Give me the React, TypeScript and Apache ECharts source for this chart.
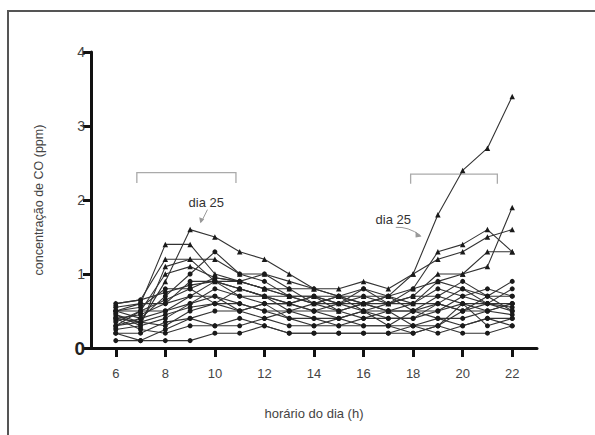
import React, { useEffect, useRef } from "react";
import * as echarts from "echarts";

const hours = [6, 7, 8, 9, 10, 11, 12, 13, 14, 15, 16, 17, 18, 19, 20, 21, 22];
const xTicks = [6, 8, 10, 12, 14, 16, 18, 20, 22];

const s01 = [0.4, 0.35, 0.9, 1.6, 1.5, 1.3, 1.2, 1.0, 0.8, 0.7, 0.6, 0.7, 1.0, 1.8, 2.4, 2.7, 3.4];
const s02 = [0.5, 0.6, 1.4, 1.4, 1.0, 0.9, 0.8, 0.7, 0.7, 0.6, 0.7, 0.6, 0.8, 1.3, 1.4, 1.6, 1.3];
const s03 = [0.6, 0.65, 1.2, 1.2, 1.2, 1.0, 1.0, 0.9, 0.8, 0.8, 0.9, 0.8, 1.0, 1.2, 1.3, 1.5, 1.6];
const s04 = [0.45, 0.3, 1.1, 1.2, 0.9, 0.8, 0.7, 0.6, 0.7, 0.5, 0.6, 0.6, 0.7, 1.0, 1.0, 1.1, 1.9];
const s05 = [0.3, 0.5, 1.0, 1.1, 0.95, 0.9, 0.8, 0.8, 0.6, 0.7, 0.5, 0.5, 0.6, 0.9, 1.0, 1.3, 1.3];
const s06 = [0.5, 0.4, 0.7, 1.0, 1.3, 1.0, 0.9, 0.7, 0.6, 0.6, 0.6, 0.5, 0.5, 0.7, 0.9, 0.7, 0.9];
const s07 = [0.4, 0.45, 0.6, 0.9, 0.9, 0.8, 0.7, 0.6, 0.5, 0.6, 0.5, 0.6, 0.6, 0.6, 0.8, 0.6, 0.8];
const s08 = [0.35, 0.5, 0.65, 0.8, 0.95, 0.9, 0.8, 0.7, 0.7, 0.7, 0.7, 0.7, 0.6, 0.8, 0.7, 0.8, 0.7];
const s09 = [0.55, 0.6, 0.6, 0.7, 0.9, 0.7, 0.6, 0.6, 0.5, 0.5, 0.6, 0.5, 0.5, 0.5, 0.6, 0.5, 0.6];
const s10 = [0.5, 0.5, 0.5, 0.6, 0.8, 0.7, 0.7, 0.5, 0.6, 0.5, 0.4, 0.4, 0.4, 0.5, 0.7, 0.6, 0.55];
const s11 = [0.3, 0.4, 0.5, 0.7, 0.7, 0.6, 0.5, 0.5, 0.4, 0.4, 0.5, 0.4, 0.4, 0.6, 0.5, 0.7, 0.5];
const s12 = [0.25, 0.3, 0.4, 0.6, 0.7, 0.5, 0.6, 0.4, 0.4, 0.3, 0.4, 0.5, 0.3, 0.4, 0.4, 0.5, 0.45];
const s13 = [0.45, 0.35, 0.3, 0.5, 0.6, 0.6, 0.5, 0.4, 0.3, 0.4, 0.3, 0.3, 0.5, 0.4, 0.3, 0.4, 0.4];
const s14 = [0.2, 0.2, 0.35, 0.4, 0.5, 0.5, 0.4, 0.3, 0.3, 0.3, 0.3, 0.3, 0.3, 0.3, 0.6, 0.3, 0.4];
const s15 = [0.4, 0.25, 0.2, 0.3, 0.3, 0.4, 0.3, 0.2, 0.2, 0.2, 0.2, 0.2, 0.2, 0.3, 0.2, 0.2, 0.3];
const s16 = [0.1, 0.1, 0.1, 0.1, 0.2, 0.2, 0.3, 0.2, 0.2, 0.2, 0.2, 0.2, 0.3, 0.2, 0.3, 0.4, 0.3];
const s17 = [0.2, 0.1, 0.25, 0.4, 0.3, 0.3, 0.4, 0.5, 0.5, 0.4, 0.5, 0.3, 0.2, 0.3, 0.5, 0.5, 0.6];
const s18 = [0.5, 0.55, 0.8, 0.8, 0.6, 0.5, 0.6, 0.6, 0.7, 0.6, 0.8, 0.6, 0.7, 0.7, 0.6, 0.6, 0.5];
const s19 = [0.3, 0.35, 0.45, 0.55, 0.6, 0.8, 0.7, 0.7, 0.6, 0.7, 0.6, 0.7, 0.5, 0.6, 0.5, 0.6, 0.6];
const s20 = [0.6, 0.65, 0.75, 0.85, 0.9, 0.9, 1.0, 0.8, 0.8, 0.7, 0.8, 0.7, 0.8, 0.9, 0.8, 0.7, 0.7];

const allSeries = [s01, s02, s03, s04, s05, s06, s07, s08, s09, s10, s11, s12, s13, s14, s15, s16, s17, s18, s19, s20];

const annotationText = "dia 25";
const xName = "horário do dia (h)";
const yName = "concentração de CO (ppm)";

export default function App() {
  const ref = useRef<HTMLDivElement>(null);
  useEffect(() => {
    document.body.style.margin = "0";
    const chart = echarts.init(ref.current!, null, { renderer: "svg" });
    const font = "'Liberation Sans', Arial, sans-serif";
    chart.setOption({
      animation: false,
      backgroundColor: "#fff",
      textStyle: { fontFamily: font },
      grid: { left: 91, right: 58, top: 52, bottom: 87, containLabel: false },
      xAxis: {
        type: "value",
        min: 5,
        max: 23,
        name: xName,
        nameLocation: "middle",
        nameGap: 59,
        nameTextStyle: { fontSize: 13, color: "#444", fontFamily: font },
        axisLine: { lineStyle: { color: "#111", width: 3 } },
        axisTick: { show: true, length: 9, lineStyle: { color: "#111", width: 3 }, customValues: xTicks },
        axisLabel: { customValues: xTicks, fontSize: 13, color: "#444", margin: 19, fontFamily: font },
        splitLine: { show: false },
      },
      yAxis: {
        type: "value",
        min: 0,
        max: 4,
        interval: 1,
        name: yName,
        nameLocation: "middle",
        nameGap: 46,
        nameTextStyle: { fontSize: 12.5, color: "#444", fontFamily: font },
        axisLine: { show: true, lineStyle: { color: "#111", width: 3 } },
        axisTick: { show: true, length: 8, lineStyle: { color: "#111", width: 3 } },
        axisLabel: {
          fontSize: 14,
          color: "#444",
          margin: 6,
          fontFamily: font,
          formatter: (v: number) => (v === 0 ? "{z|0}" : String(v)),
          rich: { z: { fontSize: 19, fontWeight: "bold", color: "#222", fontFamily: font } },
        },
        splitLine: { show: false },
      },
      series: allSeries.map((vals, k) => ({
        type: "line",
        data: hours.map((h, i) => [h, vals[i]]),
        symbol: k < 5 ? "triangle" : "circle",
        symbolSize: k < 5 ? 5.5 : 5,
        showSymbol: true,
        lineStyle: { color: "#333", width: 1.1 },
        itemStyle: { color: "#1a1a1a" },
        z: 3,
      })),
    });

    const p = (x: number, y: number) => chart.convertToPixel({ gridIndex: 0 }, [x, y]) as number[];
    const bracket = (x0: number, x1: number, yTop: number, yLeg: number) => ({
      type: "polyline",
      shape: { points: [p(x0, yLeg), p(x0, yTop), p(x1, yTop), p(x1, yLeg)] },
      style: { stroke: "#aaa", lineWidth: 1.3, fill: null },
    });
    const t1 = p(9.65, 1.97);
    const t2 = p(17.2, 1.74);
    const a1s = p(9.7, 1.87);
    const a1e = p(9.45, 1.7);
    const a2s = p(17.3, 1.63);
    const a2e = p(18.3, 1.52);
    chart.setOption({
      graphic: [
        { type: "line", shape: { x1: 8, y1: 10, x2: 8, y2: 435 }, style: { stroke: "#555", lineWidth: 2 } },
        { type: "line", shape: { x1: 7, y1: 11, x2: 595, y2: 11 }, style: { stroke: "#555", lineWidth: 2 } },
        bracket(6.85, 10.85, 2.37, 2.23),
        bracket(17.9, 21.4, 2.35, 2.22),
        {
          type: "text",
          x: t1[0],
          y: t1[1],
          style: { text: annotationText, fontSize: 13, fill: "#333", align: "center", verticalAlign: "middle", fontFamily: font },
        },
        {
          type: "text",
          x: t2[0],
          y: t2[1],
          style: { text: annotationText, fontSize: 13, fill: "#333", align: "center", verticalAlign: "middle", fontFamily: font },
        },
        {
          type: "line",
          shape: { x1: a1s[0], y1: a1s[1], x2: a1e[0], y2: a1e[1] },
          style: { stroke: "#999", lineWidth: 1 },
        },
        {
          type: "polygon",
          shape: { points: [[a1e[0] - 1, a1e[1] + 1], [a1e[0] - 2, a1e[1] - 5], [a1e[0] + 3, a1e[1] - 3]] },
          style: { fill: "#999" },
        },
        {
          type: "bezierCurve",
          shape: {
            x1: a2s[0], y1: a2s[1],
            x2: a2e[0], y2: a2e[1],
            cpx1: (a2s[0] + a2e[0]) / 2, cpy1: a2s[1] - 1,
          },
          style: { stroke: "#999", lineWidth: 1, fill: null },
        },
        {
          type: "polygon",
          shape: { points: [[a2e[0] + 1, a2e[1] + 1], [a2e[0] - 5, a2e[1] - 4], [a2e[0] - 5, a2e[1] + 2]] },
          style: { fill: "#999" },
        },
      ],
    });
    return () => chart.dispose();
  }, []);
  return <div ref={ref} style={{ width: 595, height: 435 }} />;
}
